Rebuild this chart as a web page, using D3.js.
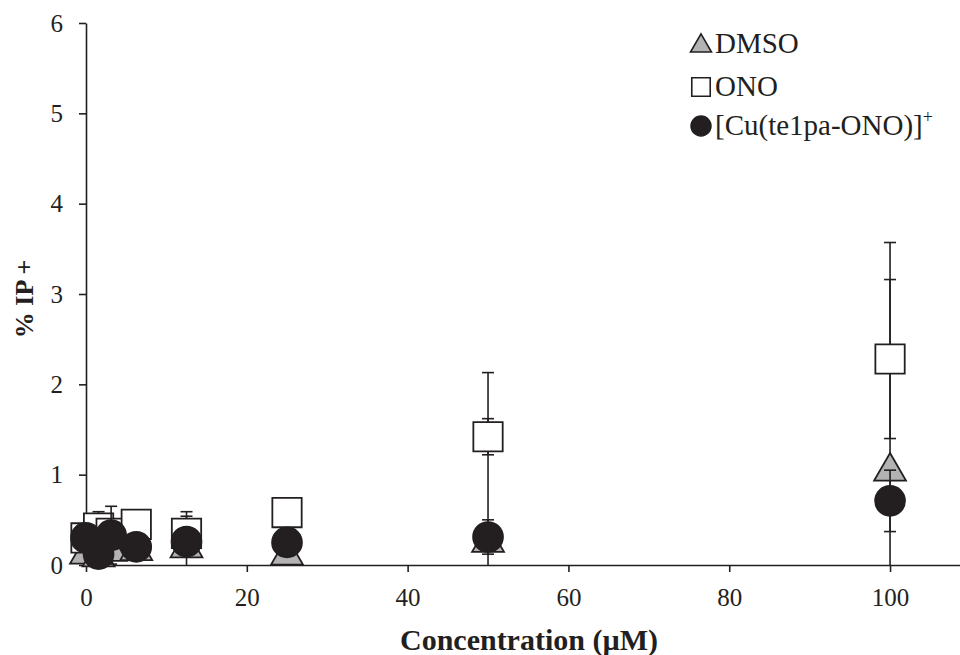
<!DOCTYPE html>
<html>
<head>
<meta charset="utf-8">
<script src="https://cdn.jsdelivr.net/npm/d3@7"></script>
<style>
  html, body { margin: 0; padding: 0; background: #fff; }
  svg { display: block; }
  text { font-family: "Liberation Serif", "Times New Roman", serif; fill: #231f20; }
</style>
</head>
<body>
<svg id="chart" width="960" height="655"></svg>
<script>
// ---- data ----
const concentrations = [0, 1.5625, 3.125, 6.25, 12.5, 25, 50, 100];
const dmsoValues   = [0.15, 0.12, 0.18, 0.19, 0.22, 0.14, 0.28, 1.07];
const dmsoErrors   = [0.05, 0.05, 0.05, 0.05, 0.32, 0.05, 1.85, 2.50];
const onoValues    = [0.30, 0.41, 0.35, 0.45, 0.35, 0.58, 1.42, 2.28];
const onoErrors    = [0.10, 0.18, 0.15, 0.12, 0.24, 0.10, 0.20, 0.88];
const cuValues     = [0.30, 0.12, 0.33, 0.20, 0.26, 0.25, 0.31, 0.71];
const cuErrors     = [0.05, 0.10, 0.32, 0.10, 0.06, 0.08, 0.19, 0.34];
const xTicks = [0, 20, 40, 60, 80, 100];
const yTicks = [0, 1, 2, 3, 4, 5, 6];
const seriesNames = ["DMSO", "ONO", "[Cu(te1pa-ONO)]"];

const svg = d3.select("#chart");
const ink = "#231f20";

const x = d3.scaleLinear().domain([0, 108.7]).range([86, 960]);
const y = d3.scaleLinear().domain([0, 6]).range([565, 23]);

// clip for error bars (plot area)
svg.append("defs").append("clipPath").attr("id", "plotclip")
  .append("rect")
  .attr("x", x(0) - 40).attr("y", y(6) - 5)
  .attr("width", x(108.7) - x(0) + 40).attr("height", y(0) - y(6) + 5);

// axes
const xAxis = svg.append("g").attr("transform", `translate(0,${y(0)})`)
  .call(d3.axisBottom(x).tickValues(xTicks).tickFormat(d3.format("d"))
    .tickSize(7).tickSizeOuter(0).tickPadding(10));
const yAxis = svg.append("g").attr("transform", `translate(${x(0)},0)`)
  .call(d3.axisLeft(y).tickValues(yTicks).tickFormat(d3.format("d"))
    .tickSize(7).tickSizeOuter(0).tickPadding(16));
[xAxis, yAxis].forEach(g => {
  g.select(".domain").attr("stroke", ink).attr("stroke-width", 1.6);
  g.selectAll(".tick line").attr("stroke", ink).attr("stroke-width", 1.6);
  g.selectAll(".tick text").attr("font-size", 25).attr("fill", ink)
    .style("font-family", '"Liberation Serif", serif');
});
xAxis.selectAll(".tick text").attr("dy", "0.95em");

// axis titles
svg.append("text")
  .attr("x", 529).attr("y", 650)
  .attr("text-anchor", "middle")
  .attr("font-size", 30).attr("font-weight", "bold")
  .text("Concentration (µM)");
svg.append("text")
  .attr("transform", `translate(33,${299}) rotate(-90)`)
  .attr("text-anchor", "middle")
  .attr("font-size", 26).attr("font-weight", "bold")
  .text("% IP +");

// series definitions
const series = [
  { name: seriesNames[0], values: dmsoValues, errors: dmsoErrors, shape: d3.symbolTriangle, fill: "#b3b3b3", size: 440 },
  { name: seriesNames[1], values: onoValues, errors: onoErrors, shape: d3.symbolSquare, fill: "#ffffff", size: 860 },
  { name: seriesNames[2], values: cuValues, errors: cuErrors, shape: d3.symbolCircle, fill: ink, size: 700 }
];

const capHalf = 6;
series.forEach(s => {
  const g = svg.append("g");
  const pts = concentrations.map((c, i) => ({ c, v: s.values[i], e: s.errors[i] }));
  const eb = g.append("g").attr("clip-path", "url(#plotclip)");
  pts.forEach(p => {
    eb.append("line")
      .attr("x1", x(p.c)).attr("x2", x(p.c))
      .attr("y1", y(p.v + p.e)).attr("y2", y(p.v - p.e))
      .attr("stroke", ink).attr("stroke-width", 1.6);
    [p.v + p.e, p.v - p.e].forEach(val => {
      eb.append("line")
        .attr("x1", x(p.c) - capHalf).attr("x2", x(p.c) + capHalf)
        .attr("y1", y(val)).attr("y2", y(val))
        .attr("stroke", ink).attr("stroke-width", 1.6);
    });
  });
  g.selectAll("path.mk").data(pts).enter().append("path")
    .attr("class", "mk")
    .attr("d", d3.symbol().type(s.shape).size(s.size))
    .attr("transform", d => {
      const dy = s.shape === d3.symbolTriangle ? 3 : 0;
      return `translate(${x(d.c)},${y(d.v) + dy})`;
    })
    .attr("fill", s.fill)
    .attr("stroke", ink)
    .attr("stroke-width", 1.8);
});

// legend
const legend = svg.append("g");
const legendY = [44, 87, 126];
series.forEach((s, i) => {
  const sizeL = s.shape === d3.symbolTriangle ? 190 : (s.shape === d3.symbolSquare ? 340 : 310);
  legend.append("path")
    .attr("d", d3.symbol().type(s.shape).size(sizeL))
    .attr("transform", `translate(701,${legendY[i] + (s.shape === d3.symbolTriangle ? 2 : 0)})`)
    .attr("fill", s.fill).attr("stroke", ink).attr("stroke-width", 1.6);
  const t = legend.append("text")
    .attr("x", 715).attr("y", legendY[i] + 9)
    .attr("font-size", 29)
    .text(s.name);
  if (i === 2) {
    t.append("tspan").attr("dy", -12).attr("font-size", 18).text("+");
  }
});
</script>
</body>
</html>
